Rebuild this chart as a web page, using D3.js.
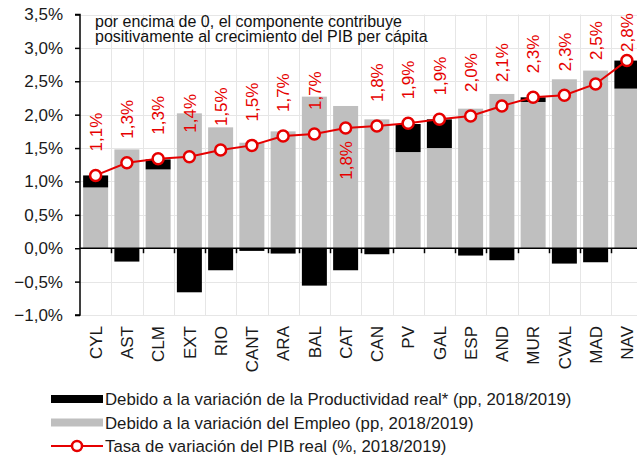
<!DOCTYPE html>
<html>
<head>
<meta charset="utf-8">
<script src="https://cdn.jsdelivr.net/npm/d3@7"></script>
<style>
	html, body { margin: 0; padding: 0; background: #fff; }
	svg { display: block; font-family: Arial, "Liberation Sans", sans-serif; }
</style>
</head>
<body>
<div id="app"></div>
<script>
// regiones, ordenadas por crecimiento del PIB
const categories = ['CYL', 'AST', 'CLM', 'EXT', 'RIO', 'CANT', 'ARA', 'BAL', 'CAT', 'CAN', 'PV', 'GAL', 'ESP', 'AND', 'MUR', 'CVAL', 'MAD', 'NAV'];
// contribución del empleo (pp)
const empleo = [0.91, 1.48, 1.18, 2.02, 1.81, 1.58, 1.75, 2.27, 2.13, 1.93, 1.44, 1.50, 2.09, 2.31, 2.19, 2.53, 2.66, 2.39];
// contribución de la productividad (pp)
const productividad = [0.18, -0.20, 0.15, -0.66, -0.33, -0.04, -0.08, -0.56, -0.33, -0.09, 0.42, 0.43, -0.11, -0.18, 0.07, -0.23, -0.21, 0.42];
// tasa de variación del PIB real (%)
const pib = [1.09, 1.28, 1.34, 1.37, 1.47, 1.54, 1.68, 1.71, 1.80, 1.83, 1.87, 1.93, 1.98, 2.13, 2.26, 2.29, 2.46, 2.81];
const yTicks = [-1, -0.5, 0, 0.5, 1, 1.5, 2, 2.5, 3, 3.5];
const labelBelow = ['CAT'];
const noteLines = ['por encima de 0, el componente contribuye', 'positivamente al crecimiento del PIB per cápita'];
const legendItems = [
	{ key: 'prod', text: 'Debido a la variación de la Productividad real* (pp, 2018/2019)' },
	{ key: 'emp', text: 'Debido a la variación del Empleo (pp, 2018/2019)' },
	{ key: 'pib', text: 'Tasa de variación del PIB real (%, 2018/2019)' },
];

const width = 637;
const height = 456;
const red = '#e60000';
const fmt = (v) => d3.format('.1f')(v).replace('.', ',') + '%';

const svg = d3.select('#app').append('svg')
	.attr('width', width)
	.attr('height', height);

const x = d3.scaleBand()
	.domain(categories)
	.range([80, 642.5])
	.paddingInner(0.2)
	.paddingOuter(0.1);

const y = d3.scaleLinear()
	.domain([-1, 3.5])
	.range([315, 14.5]);

// rejilla
const grid = svg.append('g').attr('stroke', '#e6e6e6').attr('stroke-width', 1);
grid.selectAll('line.h')
	.data(yTicks)
	.join('line')
	.attr('class', 'h')
	.attr('x1', x.range()[0])
	.attr('x2', x.range()[1])
	.attr('y1', (d) => Math.round(y(d)) + 0.5)
	.attr('y2', (d) => Math.round(y(d)) + 0.5);
grid.selectAll('line.v')
	.data(d3.range(1, categories.length + 1))
	.join('line')
	.attr('class', 'v')
	.attr('x1', (i) => Math.round(x.range()[0] + i * x.step()) + 0.5)
	.attr('x2', (i) => Math.round(x.range()[0] + i * x.step()) + 0.5)
	.attr('y1', y(3.5))
	.attr('y2', y(-1));

// nota
svg.append('g')
	.selectAll('text')
	.data(noteLines)
	.join('text')
	.attr('x', 95)
	.attr('y', (d, i) => 26.5 + i * 15.5)
	.attr('font-size', 16)
	.attr('fill', '#111')
	.text((d) => d);

// barras de empleo (base 0)
svg.append('g')
	.selectAll('rect')
	.data(categories)
	.join('rect')
	.attr('x', (d) => x(d))
	.attr('width', x.bandwidth())
	.attr('y', (d, i) => y(Math.max(0, empleo[i])))
	.attr('height', (d, i) => Math.abs(y(empleo[i]) - y(0)))
	.attr('fill', '#bfbfbf');

// barras de productividad (apiladas)
svg.append('g')
	.selectAll('rect')
	.data(categories)
	.join('rect')
	.attr('x', (d) => x(d))
	.attr('width', x.bandwidth())
	.attr('y', (d, i) => {
		const p = productividad[i];
		return p >= 0 ? y(empleo[i] + p) : y(0);
	})
	.attr('height', (d, i) => {
		const p = productividad[i];
		return p >= 0 ? y(empleo[i]) - y(empleo[i] + p) : y(p) - y(0);
	})
	.attr('fill', '#000');

// ejes
const yAxis = d3.axisLeft(y)
	.tickValues(yTicks)
	.tickSize(5)
	.tickPadding(12)
	.tickFormat(fmt);
const gy = svg.append('g')
	.attr('transform', 'translate(80,0)')
	.call(yAxis);
gy.select('.domain').attr('stroke', '#000').attr('stroke-width', 1.5).attr('d', `M-5,${y(3.5)}H0V${y(-1)}H-5`);
gy.selectAll('.tick line').attr('stroke', '#000').attr('stroke-width', 1.5);
gy.selectAll('.tick text')
	.attr('font-size', 17)
	.attr('font-family', 'Arial, "Liberation Sans", sans-serif')
	.attr('fill', '#1a1a1a');

const gx = svg.append('g');
gx.append('line')
	.attr('x1', x.range()[0])
	.attr('x2', x.range()[1])
	.attr('y1', y(0))
	.attr('y2', y(0))
	.attr('stroke', '#000')
	.attr('stroke-width', 1.5);
gx.selectAll('line.t')
	.data(d3.range(1, categories.length + 1))
	.join('line')
	.attr('class', 't')
	.attr('x1', (i) => Math.round(x.range()[0] + i * x.step()) + 0.5)
	.attr('x2', (i) => Math.round(x.range()[0] + i * x.step()) + 0.5)
	.attr('y1', y(0))
	.attr('y2', y(0) + 5)
	.attr('stroke', '#000')
	.attr('stroke-width', 1.5);

svg.append('g')
	.selectAll('text')
	.data(categories)
	.join('text')
	.attr('transform', (d) => `translate(${x(d) + x.bandwidth() / 2},${y(-1) + 11}) rotate(-90)`)
	.attr('text-anchor', 'end')
	.attr('dy', '0.36em')
	.attr('font-size', 17)
	.attr('fill', '#1a1a1a')
	.text((d) => d);

// línea del PIB
const line = d3.line()
	.x((d, i) => x(categories[i]) + x.bandwidth() / 2)
	.y((d) => y(d));

svg.append('path')
	.datum(pib)
	.attr('d', line)
	.attr('fill', 'none')
	.attr('stroke', red)
	.attr('stroke-width', 2);

svg.append('g')
	.selectAll('circle')
	.data(pib)
	.join('circle')
	.attr('cx', (d, i) => x(categories[i]) + x.bandwidth() / 2)
	.attr('cy', (d) => y(d))
	.attr('r', 5.5)
	.attr('fill', '#fff')
	.attr('stroke', red)
	.attr('stroke-width', 2.5);

// etiquetas de valores
svg.append('g')
	.selectAll('text')
	.data(pib)
	.join('text')
	.attr('transform', (d, i) => {
		const cx = x(categories[i]) + x.bandwidth() / 2;
		if (labelBelow.includes(categories[i])) return `translate(${cx},${y(d) + 13}) rotate(-90)`;
		return `translate(${cx},${Math.max(y(d) - 24, 52)}) rotate(-90)`;
	})
	.attr('text-anchor', (d, i) => labelBelow.includes(categories[i]) ? 'end' : 'start')
	.attr('dy', '0.36em')
	.attr('font-size', 17)
	.attr('fill', red)
	.text((d) => fmt(d));

// leyenda
const legend = svg.append('g')
	.selectAll('g')
	.data(legendItems)
	.join('g')
	.attr('transform', (d, i) => `translate(51,${399 + i * 23.5})`);

legend.filter((d) => d.key !== 'pib')
	.append('rect')
	.attr('x', 0)
	.attr('y', -4)
	.attr('width', 52)
	.attr('height', 8)
	.attr('fill', (d) => d.key === 'prod' ? '#000' : '#bfbfbf');

const lp = legend.filter((d) => d.key === 'pib');
lp.append('line')
	.attr('x1', 0)
	.attr('x2', 52)
	.attr('stroke', red)
	.attr('stroke-width', 2);
lp.append('circle')
	.attr('cx', 26)
	.attr('r', 5)
	.attr('fill', '#fff')
	.attr('stroke', red)
	.attr('stroke-width', 2.5);

legend.append('text')
	.attr('x', 54)
	.attr('dy', '0.36em')
	.attr('font-size', 16.8)
	.attr('fill', '#1a1a1a')
	.text((d) => d.text);
</script>
</body>
</html>
